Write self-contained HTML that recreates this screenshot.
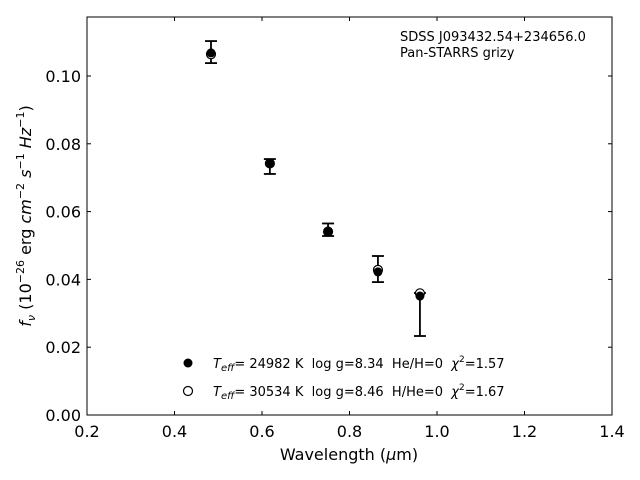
<!DOCTYPE html>
<html><head><meta charset="utf-8"><style>body{margin:0;background:#fff}svg{display:block;font-family:"DejaVu Sans","Liberation Sans",sans-serif}svg text{white-space:pre}</style></head>
<body>
<svg id="chart" width="640" height="480" viewBox="0 0 640 480" xmlns="http://www.w3.org/2000/svg" xml:space="preserve">
<g id="marks"></g>
<g id="axes"></g>
<text x="400" y="41" font-size="13">SDSS J093432.54+234656.0</text>
<text x="400" y="57" font-size="13">Pan-STARRS grizy</text>
<text x="349" y="460" font-size="16" text-anchor="middle">Wavelength (<tspan font-style="italic">μ</tspan>m)</text>
<text transform="translate(31,216) rotate(-90)" font-size="16" text-anchor="middle"><tspan font-style="italic">f</tspan><tspan font-style="italic" font-size="11" dy="4">ν</tspan><tspan dy="-4"> (10</tspan><tspan font-size="11" dy="-7">−26</tspan><tspan dy="7"> erg </tspan><tspan font-style="italic">cm</tspan><tspan font-size="11" dy="-7">−2</tspan><tspan dy="7"> </tspan><tspan font-style="italic">s</tspan><tspan font-size="11" dy="-7">−1</tspan><tspan dy="7"> </tspan><tspan font-style="italic">Hz</tspan><tspan font-size="11" dy="-7">−1</tspan><tspan dy="7">)</tspan></text>
<g font-size="13">
<circle cx="188" cy="363" r="4.5" fill="#000"/>
<text x="213" y="368"><tspan font-style="italic">T</tspan><tspan font-style="italic" font-size="10" dy="3">eff</tspan><tspan dy="-3">= 24982 K  log g=8.34  He/H=0  </tspan><tspan font-style="italic">χ</tspan><tspan font-size="9" dy="-6">2</tspan><tspan dy="6">=1.57</tspan></text>
<circle cx="188" cy="391" r="4.5" fill="#fff" stroke="#000" stroke-width="1.2"/>
<text x="213" y="396"><tspan font-style="italic">T</tspan><tspan font-style="italic" font-size="10" dy="3">eff</tspan><tspan dy="-3">= 30534 K  log g=8.46  H/He=0  </tspan><tspan font-style="italic">χ</tspan><tspan font-size="9" dy="-6">2</tspan><tspan dy="6">=1.67</tspan></text>
</g>
</svg>
<script>
const wavelengths=[0.4834,0.618,0.751,0.865,0.961];
const obsLow=[0.1038,0.0711,0.0528,0.0392,0.0233];
const obsHigh=[0.1103,0.0755,0.0565,0.0469,0.0360];
const modelHeH=[0.1068,0.0743,0.0540,0.0422,0.0351];
const modelHHe=[0.1064,0.0742,0.0541,0.0428,0.0359];
const xTicks=[0.2,0.4,0.6,0.8,1.0,1.2,1.4];
const yTicks=[0.00,0.02,0.04,0.06,0.08,0.10];
const L=87,R=612,T=17,B=415,xMin=0.2,xMax=1.4,yMin=0,yMax=0.1174;
const xs=v=>L+(v-xMin)/(xMax-xMin)*(R-L);
const ys=v=>B-(v-yMin)/(yMax-yMin)*(B-T);
const NS="http://www.w3.org/2000/svg";
function mk(tag,attrs,parent){const e=document.createElementNS(NS,tag);for(const k in attrs)e.setAttribute(k,attrs[k]);parent.appendChild(e);return e;}
const marks=document.getElementById('marks'),axes=document.getElementById('axes');
wavelengths.forEach((w,i)=>{
 const x=xs(w);
 const g=mk('g',{},marks);
 
 
 mk('line',{x1:x,x2:x,y1:ys(obsLow[i]),y2:ys(obsHigh[i]),stroke:'#000','stroke-width':1.8},g);
 mk('line',{x1:x-6,x2:x+6,y1:ys(obsLow[i]),y2:ys(obsLow[i]),stroke:'#000','stroke-width':1.8},g);
 mk('line',{x1:x-6,x2:x+6,y1:ys(obsHigh[i]),y2:ys(obsHigh[i]),stroke:'#000','stroke-width':1.8},g);
 const c2=mk('circle',{cx:x,cy:ys(modelHHe[i]),r:4.5,fill:'#fff',stroke:'#000','stroke-width':1.2},marks);
 
 
 const c1=mk('circle',{cx:x,cy:ys(modelHeH[i]),r:4.5,fill:'#000'},marks);
 
 
});
const frame=mk('rect',{x:L,y:T,width:R-L,height:B-T,fill:'none',stroke:'#000','stroke-width':1},axes);


xTicks.forEach(t=>{
 const x=xs(t);
 mk('line',{x1:x,x2:x,y1:B,y2:B-4,stroke:'#000'},axes);
 mk('line',{x1:x,x2:x,y1:T,y2:T+4,stroke:'#000'},axes);
 const tx=mk('text',{x:x,y:B+22,'font-size':16,'text-anchor':'middle'},axes);
 tx.textContent=t.toFixed(1);
 
 
});
yTicks.forEach(t=>{
 const y=ys(t);
 mk('line',{x1:L,x2:L+4,y1:y,y2:y,stroke:'#000'},axes);
 mk('line',{x1:R,x2:R-4,y1:y,y2:y,stroke:'#000'},axes);
 const tx=mk('text',{x:L-6,y:y+6,'font-size':16,'text-anchor':'end'},axes);
 tx.textContent=t.toFixed(2);
 
 
});
</script>
</body></html>
